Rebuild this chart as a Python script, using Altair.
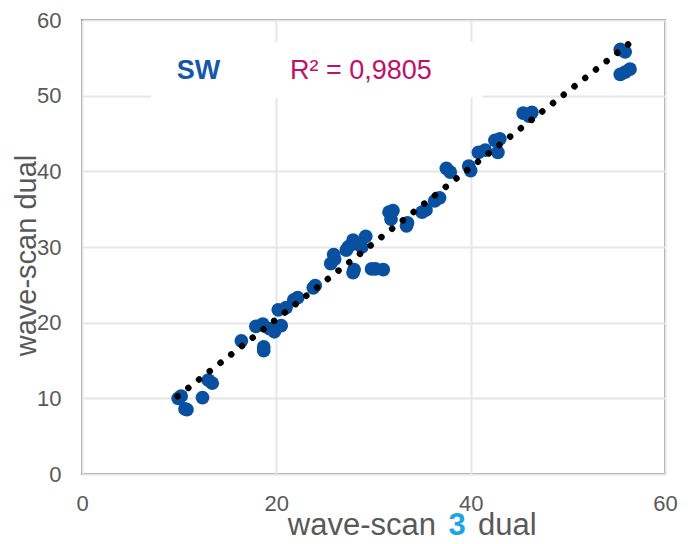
import altair as alt
import pandas as pd

# measured points (wave-scan 3 dual vs wave-scan dual, SW)
x_vals = [9.9, 10.2, 10.6, 10.8, 12.4, 13.0, 13.4, 16.4, 18.7, 18.7,
          17.9, 18.6, 19.3, 19.8, 20.5, 20.2, 21.0, 21.8, 22.2,
          23.8, 24.0, 25.6, 25.9, 26.0,
          27.2, 27.4, 27.9, 28.3, 28.8, 29.2,
          27.9, 28.0, 29.8, 30.2, 31.0,
          31.6, 31.8, 32.0, 33.4, 33.5, 35.0, 35.4, 36.3, 36.8,
          37.5, 37.9, 39.8, 40.0,
          40.8, 41.5, 42.5, 42.8, 43.0,
          45.4, 46.0, 46.3,
          55.4, 55.9, 55.4, 55.9, 56.4]
y_vals = [10.0, 10.3, 8.6, 8.5, 10.1, 12.4, 12.0, 17.6, 16.3, 16.8,
          19.5, 19.8, 19.2, 18.8, 19.6, 21.7, 22.0, 23.0, 23.3,
          24.6, 24.9, 27.8, 29.0, 28.4,
          29.6, 30.0, 30.9, 30.4, 30.0, 31.4,
          26.6, 27.0, 27.1, 27.1, 27.0,
          34.6, 33.7, 34.8, 32.8, 33.2, 34.6, 34.9, 36.1, 36.5,
          40.4, 39.9, 40.7, 40.1,
          42.5, 42.8, 44.1, 42.5, 44.3,
          47.7, 47.3, 47.8,
          56.1, 55.8, 52.8, 53.1, 53.5]

trend_x = [9.84, 56.22]
trend_y = [10.27, 56.79]

x_ticks = [0, 20, 40, 60]
y_ticks = [0, 10, 20, 30, 40, 50, 60]

label_box = {"x": [7.1], "x2": [41.2], "y": [49.7], "y2": [57.1]}
series_label = ["SW"]
series_pos = {"x": [12.0], "y": [53.3]}
r2_label = ["R² = 0,9805"]
r2_pos = {"x": [28.7], "y": [53.3]}
xtitle_parts = ["wave-scan", "3", "dual"]

FONT = "Liberation Sans"
GRAY = "#595959"

xs = alt.Scale(domain=[0, 60], nice=False, zero=False)
ys = alt.Scale(domain=[0, 60], nice=False, zero=False)
xax = alt.Axis(values=x_ticks, title=None, grid=True, labelPadding=19,
               labelFlush=False, labelOverlap=False)
yax = alt.Axis(values=y_ticks, title="wave-scan dual", grid=True, labelPadding=21,
               titleAngle=-90, titleX=-47, titleY=235, titleAlign="center",
               titleBaseline="alphabetic", titleFontSize=29,
               labelFlush=False, labelOverlap=False)


def enc(field_x="x", field_y="y"):
    return dict(x=alt.X(f"{field_x}:Q", scale=xs, axis=xax),
                y=alt.Y(f"{field_y}:Q", scale=ys, axis=yax))


box = alt.Chart(pd.DataFrame(label_box)).mark_rect(color="white").encode(
    x2="x2:Q", y2="y2:Q", **enc())

pts = alt.Chart(pd.DataFrame({"x": x_vals, "y": y_vals})).mark_circle(
    size=190, color="#0a50a1", opacity=1).encode(**enc())

trend = alt.Chart(pd.DataFrame({"x": trend_x, "y": trend_y})).mark_line(
    color="black", strokeWidth=6.5, strokeDash=[0.01, 13.6], strokeCap="round").encode(**enc())

sw = alt.Chart(pd.DataFrame({"x": series_pos["x"], "y": series_pos["y"], "t": series_label})).mark_text(
    font=FONT, fontSize=27, fontWeight="bold", color="#1558a8", baseline="middle", align="center").encode(
    text="t:N", **enc())

r2 = alt.Chart(pd.DataFrame({"x": r2_pos["x"], "y": r2_pos["y"], "t": r2_label})).mark_text(
    font=FONT, fontSize=27, color="#c0106a", baseline="middle", align="center").encode(
    text="t:N", **enc())

t1 = alt.Chart(pd.DataFrame({"t": [xtitle_parts[0]]})).mark_text(
    font=FONT, fontSize=31, color=GRAY, align="right", baseline="alphabetic").encode(
    text="t:N", x=alt.value(354), y=alt.value(515))
t2 = alt.Chart(pd.DataFrame({"t": [xtitle_parts[1]]})).mark_text(
    font=FONT, fontSize=31, fontWeight="bold", color="#1ea4e6", align="center", baseline="alphabetic").encode(
    text="t:N", x=alt.value(375), y=alt.value(515))
t3 = alt.Chart(pd.DataFrame({"t": [xtitle_parts[2]]})).mark_text(
    font=FONT, fontSize=31, color=GRAY, align="left", baseline="alphabetic").encode(
    text="t:N", x=alt.value(396), y=alt.value(515))

chart = alt.layer(box, pts, trend, sw, r2, t1, t2, t3).properties(
    width=583, height=454,
    autosize=alt.AutoSizeParams(type="none"),
    padding={"left": 74, "top": 12, "right": 18, "bottom": 70},
).configure_view(
    stroke="#898989", strokeWidth=2
).configure_axis(
    domain=False, ticks=False, tickSize=0,
    gridColor="#e6e6e6", gridWidth=2,
    labelColor=GRAY, labelFont=FONT, labelFontSize=22,
    titleColor=GRAY, titleFont=FONT, titleFontWeight="normal",
)

chart.save("out.html", embed_options={"renderer": "svg", "actions": False})
